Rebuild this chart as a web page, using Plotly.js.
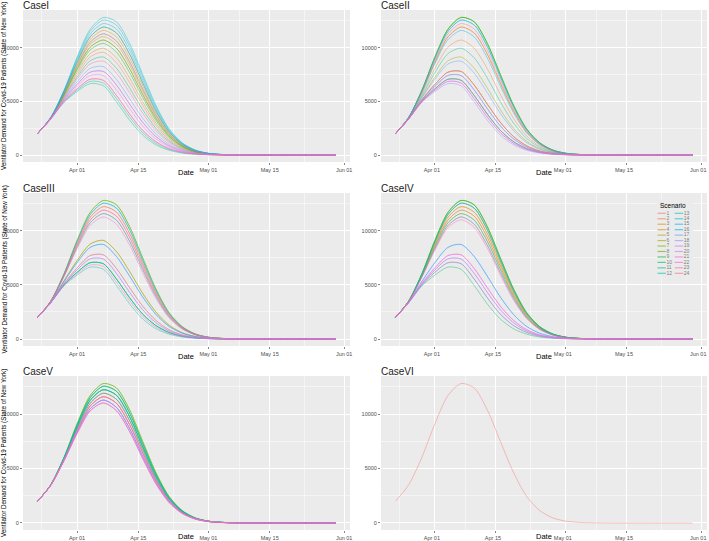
<!DOCTYPE html>
<html>
<head>
<meta charset="utf-8">
<script src="https://cdn.plot.ly/plotly-3.0.1.min.js"></script>
<style>
  html, body { margin: 0; padding: 0; background: #fff; }
  #chart { width: 709px; height: 541px; }
</style>
</head>
<body>
<div id="chart"></div>
<script>
// dates of the sampled points
const dates = ['2020-03-23', '2020-03-26', '2020-03-29', '2020-04-01', '2020-04-04', '2020-04-07',
  '2020-04-10', '2020-04-13', '2020-04-16', '2020-04-19', '2020-04-22', '2020-04-25', '2020-04-28',
  '2020-05-01', '2020-05-04', '2020-05-07', '2020-05-10', '2020-05-16', '2020-05-22', '2020-05-30'];

// demand curves, from the highest peak (p0) to the lowest (p18)
const p0  = [2000, 3500, 6000, 9100, 11700, 12800, 12400, 10400, 7500, 4650, 2450, 1150, 470, 170, 60, 22, 8, 2, 0, 0];
const p1  = [2000, 3490, 5960, 8970, 11500, 12550, 12100, 10110, 7270, 4500, 2370, 1110, 450, 160, 58, 21, 8, 2, 0, 0];
const p2  = [2000, 3490, 5900, 8810, 11250, 12230, 11730, 9760, 6990, 4320, 2270, 1060, 430, 160, 55, 20, 7, 2, 0, 0];
const p3  = [2000, 3480, 5850, 8650, 10990, 11910, 11360, 9400, 6710, 4130, 2170, 1020, 420, 150, 52, 19, 7, 2, 0, 0];
const p4  = [2000, 3470, 5790, 8490, 10740, 11590, 10990, 9040, 6430, 3950, 2070, 970, 400, 140, 50, 18, 7, 2, 0, 0];
const p5  = [2000, 3460, 5740, 8330, 10490, 11280, 10610, 8680, 6140, 3760, 1970, 920, 380, 140, 46, 17, 6, 2, 0, 0];
const p6  = [2000, 3460, 5690, 8200, 10290, 11020, 10310, 8400, 5920, 3610, 1890, 880, 360, 130, 44, 16, 6, 1, 0, 0];
const p7  = [2000, 3450, 5640, 8040, 10030, 10700, 9940, 8040, 5640, 3430, 1790, 830, 340, 120, 40, 15, 5, 1, 0, 0];
const p8  = [2000, 3440, 5580, 7880, 9780, 10390, 9570, 7680, 5350, 3240, 1690, 790, 320, 120, 38, 14, 5, 1, 0, 0];
const p9  = [2000, 3430, 5500, 7660, 9430, 9940, 9050, 7180, 4960, 2990, 1550, 720, 290, 110, 35, 13, 4, 1, 0, 0];
const p10 = [2000, 3420, 5440, 7470, 9120, 9560, 8600, 6750, 4620, 2760, 1430, 660, 270, 100, 32, 12, 4, 1, 0, 0];
const p11 = [2000, 3410, 5360, 7240, 8770, 9120, 8080, 6250, 4220, 2500, 1290, 590, 240, 90, 28, 11, 4, 1, 0, 0];
const p12 = [2000, 3400, 5300, 7050, 8470, 8740, 7630, 5820, 3880, 2280, 1170, 540, 220, 80, 25, 10, 3, 1, 0, 0];
const p13 = [2000, 3390, 5210, 6800, 8060, 8230, 7040, 5250, 3430, 1990, 1010, 460, 190, 70, 22, 8, 3, 1, 0, 0];
const p14 = [2000, 3380, 5130, 6570, 7710, 7780, 6520, 4750, 3040, 1730, 870, 390, 160, 60, 19, 7, 2, 0, 0, 0];
const p15 = [2000, 3370, 5070, 6380, 7410, 7400, 6070, 4320, 2700, 1510, 750, 330, 130, 50, 16, 6, 2, 0, 0, 0];
const p16 = [2000, 3360, 4990, 6160, 7050, 6960, 5550, 3820, 2300, 1250, 610, 270, 110, 40, 13, 5, 1, 0, 0, 0];
const p17 = [2000, 3360, 4940, 6030, 6850, 6700, 5250, 3540, 2080, 1100, 530, 230, 90, 34, 11, 4, 1, 0, 0, 0];
const p18 = [2000, 3350, 4900, 5900, 6650, 6450, 4950, 3250, 1850, 950, 450, 190, 75, 28, 10, 4, 1, 0, 0, 0];
const profiles = [p0, p1, p2, p3, p4, p5, p6, p7, p8, p9, p10, p11, p12, p13, p14, p15, p16, p17, p18];

// which curve each scenario (1..24) follows in each case
const caseI   = [10, 7, 4, 9, 6, 5, 3, 7, 8, 11, 17, 18, 0, 1, 2, 3, 13, 14, 5, 15, 14, 16, 12, 16];
const caseII  = [3, 7, 3, 14, 14, 11, 0, 0, 0, 16, 9, 16, 1, 1, 4, 15, 12, 18, 17, 15, 17, 14, 2, 16];
const caseIII = [3, 4, 2, 14, 11, 11, 0, 0, 16, 16, 16, 18, 1, 1, 4, 12, 12, 15, 15, 14, 17, 5, 3, 2];
const caseIV  = [3, 2, 2, 3, 4, 1, 0, 0, 0, 18, 16, 4, 1, 1, 5, 12, 12, 15, 15, 14, 16, 14, 6, 5];
const caseV   = [3, 4, 3, 4, 2, 2, 0, 0, 1, 1, 1, 2, 2, 2, 3, 5, 5, 5, 6, 5, 6, 4, 4, 6];
const caseVI  = [0];   // only one curve is visible in CaseVI

const caseNames = ['CaseI', 'CaseII', 'CaseIII', 'CaseIV', 'CaseV', 'CaseVI'];
const scenarios = ['1', '2', '3', '4', '5', '6', '7', '8', '9', '10', '11', '12',
  '13', '14', '15', '16', '17', '18', '19', '20', '21', '22', '23', '24'];
const scenarioColors = ['#F8766D', '#EC823C', '#DE8C00', '#CD9600', '#B79F00', '#9DA700', '#7CAE00', '#53B400',
  '#00BA38', '#00BC64', '#00C08B', '#00C0A8', '#00BFC4', '#00BBDB', '#00B4F0', '#00A9FF',
  '#619CFF', '#A58AFF', '#C77CFF', '#E36EF6', '#F564E3', '#FD61D1', '#FF64B0', '#FF6C91'];

const xTicks = ['2020-04-01', '2020-04-15', '2020-05-01', '2020-05-15', '2020-06-01'];
const xMinor = ['2020-03-24', '2020-04-08', '2020-04-23', '2020-05-08', '2020-05-23'];
const yTicks = [0, 5000, 10000];
const yMinor = [2500, 7500, 12500];

const W = 709, H = 541;
const FONT = 'Liberation Sans, Arial, sans-serif';
const colsPx = [[23, 350], [381, 707]];
const rowsPx = [[10, 162], [193, 346], [376, 530]];

const panels = [caseI, caseII, caseIII, caseIV, caseV, caseVI];
const traces = [];
const layout = {
  width: W, height: H,
  margin: {l: 0, r: 0, t: 0, b: 0},
  paper_bgcolor: '#FFFFFF',
  plot_bgcolor: '#EBEBEB',
  showlegend: false,
  font: {family: FONT, color: '#000'},
  annotations: [],
  shapes: []
};

panels.forEach(function (map, k) {
  const n = k + 1;
  const sfx = n === 1 ? '' : String(n);
  const col = k % 2, row = Math.floor(k / 2);
  const cx = colsPx[col], ry = rowsPx[row];

  map.forEach(function (pi, s) {
    traces.push({
      x: dates,
      y: profiles[pi],
      type: 'scatter',
      mode: 'lines',
      name: scenarios[s],
      xaxis: 'x' + sfx,
      yaxis: 'y' + sfx,
      line: {color: scenarioColors[s], width: 0.8, shape: 'spline', smoothing: 0.8},
      opacity: 0.55,
      hoverinfo: 'skip'
    });
  });

  layout['xaxis' + sfx] = {
    domain: [cx[0] / W, cx[1] / W],
    anchor: 'y' + sfx,
    type: 'date',
    range: ['2020-03-19 16:00', '2020-06-02 08:00'],
    tickmode: 'array',
    tickvals: xTicks,
    tickformat: '%b %d',
    tickfont: {size: 5.5, color: '#4D4D4D', family: FONT},
    ticklabeloverflow: 'allow',
    ticklabelshift: col === 1 ? -3 : 0,
    ticks: 'outside', ticklen: 2, tickwidth: 0.6, tickcolor: '#333333',
    showgrid: true, gridcolor: '#FFFFFF', gridwidth: 1,
    minor: {tickmode: 'array', tickvals: xMinor, showgrid: true, gridcolor: '#FFFFFF', gridwidth: 0.5, ticks: ''},
    zeroline: false, showline: false, fixedrange: true
  };
  layout['yaxis' + sfx] = {
    domain: [1 - ry[1] / H, 1 - ry[0] / H],
    anchor: 'x' + sfx,
    range: [-645, 13495],
    tickmode: 'array',
    tickvals: yTicks,
    tickformat: 'd',
    tickfont: {size: 5.5, color: '#4D4D4D', family: FONT},
    ticklabeloverflow: 'allow',
    ticks: 'outside', ticklen: 2, tickwidth: 0.6, tickcolor: '#333333',
    showgrid: true, gridcolor: '#FFFFFF', gridwidth: 1,
    minor: {tickmode: 'array', tickvals: yMinor, showgrid: true, gridcolor: '#FFFFFF', gridwidth: 0.5, ticks: ''},
    zeroline: false, showline: false, fixedrange: true
  };

  // panel title
  layout.annotations.push({
    text: caseNames[k], xref: 'paper', yref: 'paper',
    x: (cx[0] - 1) / W, y: 1 - (ry[0] - 4.5) / H,
    xanchor: 'left', yanchor: 'middle', showarrow: false, borderpad: 0,
    font: {size: 10, color: '#1A1A1A', family: FONT}
  });
  // x axis title
  layout.annotations.push({
    text: 'Date', xref: 'paper', yref: 'paper',
    x: (cx[0] + cx[1]) / 2 / W, y: 1 - Math.min(ry[1] + 10.5, 536) / H,
    xanchor: 'center', yanchor: 'middle', showarrow: false, borderpad: 0,
    font: {size: 7.5, color: '#000', family: FONT}
  });
  // y axis title, left column only
  if (col === 0) {
    layout.annotations.push({
      text: 'Ventilator Demand for Covid-19 Patients (State of New York)',
      xref: 'paper', yref: 'paper',
      x: 4 / W, y: 1 - (ry[0] + ry[1]) / 2 / H,
      xanchor: 'center', yanchor: 'middle', textangle: -90, showarrow: false,
      font: {size: 6.3, color: '#000', family: FONT}
    });
  }
});

// legend box inside CaseIV, drawn as a small subplot of its own
layout.xaxis7 = {domain: [657 / W, 693 / W], anchor: 'y7', range: [0, 10], visible: false, fixedrange: true};
layout.yaxis7 = {domain: [1 - 277 / H, 1 - 200 / H], anchor: 'x7', range: [11.68, -2.44], visible: false, fixedrange: true};
layout.shapes.push({
  type: 'rect', xref: 'x7 domain', yref: 'y7 domain', x0: 0, x1: 1, y0: 0, y1: 1,
  fillcolor: '#FFFFFF', line: {width: 0}, layer: 'below'
});
layout.annotations.push({
  text: 'Scenario', xref: 'x7', yref: 'y7', x: 0.4, y: -1.5,
  xanchor: 'left', yanchor: 'middle', showarrow: false,
  font: {size: 6.5, color: '#000', family: FONT}
});
traces.push({
  x: scenarios.map(function (_, i) { return i < 12 ? 1.3 : 6.1; }),
  y: scenarios.map(function (_, i) { return i % 12; }),
  text: scenarios,
  type: 'scatter',
  mode: 'markers+text',
  textposition: 'middle right',
  textfont: {size: 5, color: '#333333', family: FONT},
  marker: {symbol: 'line-ew-open', size: 6, color: scenarioColors, line: {width: 1.2, color: scenarioColors}},
  opacity: 0.6,
  xaxis: 'x7', yaxis: 'y7',
  hoverinfo: 'skip'
});

Plotly.newPlot('chart', traces, layout, {displayModeBar: false, staticPlot: true});
</script>
</body>
</html>
